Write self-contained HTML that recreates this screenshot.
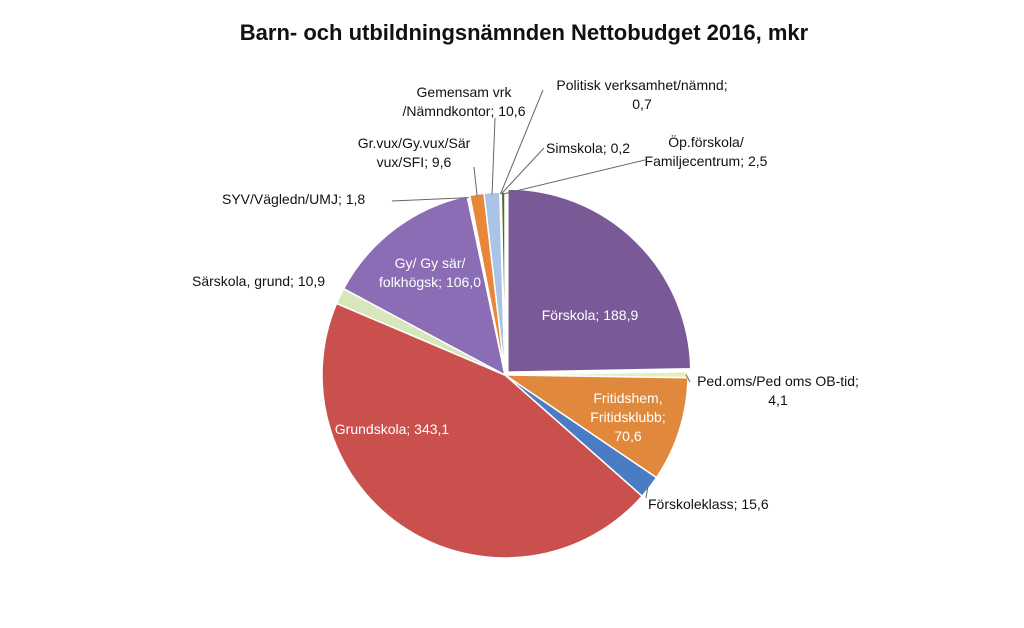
<!DOCTYPE html>
<html><head><meta charset="utf-8"><style>
body{margin:0;background:#fff;width:1024px;height:623px;overflow:hidden;font-family:"Liberation Sans",sans-serif}
</style></head><body>
<svg id="chart" width="1024" height="623" viewBox="0 0 1024 623" xmlns="http://www.w3.org/2000/svg" font-family="Liberation Sans, sans-serif">
<text x="524" y="40" text-anchor="middle" font-size="22" font-weight="bold" fill="#111">Barn- och utbildningsnämnden Nettobudget 2016, mkr</text>
<g id="slices"></g><g id="labels"></g>
</svg>
<script>
const categories=["Förskola","Ped.oms/Ped oms OB-tid","Fritidshem, Fritidsklubb","Förskoleklass","Grundskola","Särskola, grund","Gy/ Gy sär/ folkhögsk","SYV/Vägledn/UMJ","Gr.vux/Gy.vux/Sär vux/SFI","Gemensam vrk /Nämndkontor","Politisk verksamhet/nämnd","Simskola","Öp.förskola/ Familjecentrum"];
const values=[188.9,4.1,70.6,15.6,343.1,10.9,106.0,1.8,9.6,10.6,0.7,0.2,2.5];
const valueLabels=["188,9","4,1","70,6","15,6","343,1","10,9","106,0","1,8","9,6","10,6","0,7","0,2","2,5"];
const colors=["#7a5a96","#e4efc0","#e0893c","#4a7cc4","#c9504d","#d8e6bc","#8b6db5","#f2f2f2","#e8873a","#a9c4e6","#4f7a3a","#9bbb59","#5a6a2a"];
const cx=505,cy=375,R=183;
const labelPos=[
 [[null],590,320,"middle","#fff",1],
 [["Ped.oms/Ped oms OB-tid;",null],778,386,"middle","#111",0,690,382],
 [["Fritidshem,","Fritidsklubb;",null],628,403,"middle","#fff",1],
 [["Förskoleklass; 15,6"],648,509,"start","#111",0,646,498],
 [[null],392,434,"middle","#fff",1],
 [["Särskola, grund; 10,9"],192,286,"start","#111",0],
 [["Gy/ Gy sär/","folkhögsk; 106,0"],430,268,"middle","#fff",1],
 [["SYV/Vägledn/UMJ; 1,8"],222,204,"start","#111",0,392,201],
 [["Gr.vux/Gy.vux/Sär","vux/SFI; 9,6"],414,148,"middle","#111",0,474,167],
 [["Gemensam vrk","/Nämndkontor; 10,6"],464,97,"middle","#111",0,495,118],
 [["Politisk verksamhet/nämnd;","0,7"],642,90,"middle","#111",0,543,90],
 [["Simskola; 0,2"],546,153,"start","#111",0,544,148],
 [["Öp.förskola/","Familjecentrum; 2,5"],706,147,"middle","#111",0,645,160]
];
const total=values.reduce((a,b)=>a+b,0);
const ang=f=>-Math.PI/2+f*2*Math.PI;
const pt=(a,r)=>[cx+r*Math.cos(a),cy+r*Math.sin(a)];
const NS="http://www.w3.org/2000/svg";
const gs=document.getElementById("slices"),gl=document.getElementById("labels");
let cum=0;
values.forEach((v,i)=>{
 const a0=ang(cum/total),a1=ang((cum+v)/total),mid=(a0+a1)/2;cum+=v;
 const off=i===0?4:0;const ox=off*Math.cos(mid),oy=off*Math.sin(mid);
 const p0=pt(a0,R),p1=pt(a1,R);
 const large=(a1-a0)>Math.PI?1:0;
 const p=document.createElementNS(NS,"path");
 p.setAttribute("d",`M${cx} ${cy} L${p0[0]} ${p0[1]} A${R} ${R} 0 ${large} 1 ${p1[0]} ${p1[1]} Z`);
 p.setAttribute("transform",`translate(${ox},${oy})`);
 p.setAttribute("fill",colors[i]);p.setAttribute("stroke","#fff");p.setAttribute("stroke-width","1.5");
 
 
 gs.appendChild(p);
 const L=labelPos[i];
 if(L.length>6){
  const e=pt(mid,R-2);
  const ln=document.createElementNS(NS,"line");
  ln.setAttribute("x1",L[6]);ln.setAttribute("y1",L[7]);ln.setAttribute("x2",e[0]+ox);ln.setAttribute("y2",e[1]+oy);
  ln.setAttribute("stroke","#666");ln.setAttribute("stroke-width","1");
  
  
  gl.appendChild(ln);
 }
 const t=document.createElementNS(NS,"text");
 t.setAttribute("x",L[1]);t.setAttribute("y",L[2]);t.setAttribute("text-anchor",L[3]);
 t.setAttribute("fill",L[4]);t.setAttribute("font-size","14");
 
 
 let lines=L[0].map(s=>s===null?(L[0].length===1?categories[i]+"; "+valueLabels[i]:valueLabels[i]):s);
 lines.forEach((s,k)=>{const ts=document.createElementNS(NS,"tspan");ts.setAttribute("x",L[1]);ts.setAttribute("dy",k?"19":"0");ts.textContent=s;t.appendChild(ts);});
 gl.appendChild(t);
});
</script>
</body></html>
